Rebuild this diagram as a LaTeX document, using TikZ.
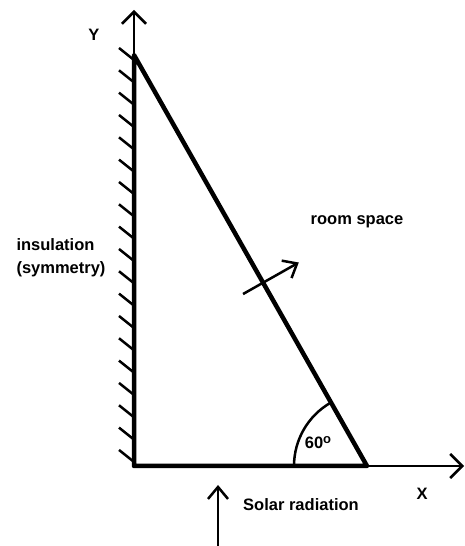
\documentclass[tikz,border=0pt]{standalone}
\usepackage{fontspec}
\setmainfont{Liberation Sans}
\usetikzlibrary{arrows.meta,calc}

\begin{document}
\begin{tikzpicture}[x=1pt,y=1pt,
  lbl/.style={font=\fontsize{16.5}{23}\selectfont\bfseries,text=black,inner sep=0pt},
  wall/.style={line width=4.5pt,line join=round},
  axis/.style={line width=2.5pt,-{Straight Barb[length=12pt,width=24pt]}},
  flux/.style={line width=2.5pt,-{Straight Barb[length=12pt,width=20pt]}},
  hatch/.style={line width=2.5pt}]
  \useasboundingbox (0,0) rectangle (465,546);
  \coordinate (o) at (134,80);
  \coordinate (a) at (134,491);
  \coordinate (b) at (367,80);
  \coordinate (ytip) at (134,536);
  \coordinate (xtip) at (464,80);
  \coordinate (c) at ($(a)!0.554!(b)$);
  \coordinate (c1) at ($(c)+(209.5:23)$);
  \coordinate (c2) at ($(c)+(29.5:41)$);
  \coordinate (sun) at (218,-2);
  \coordinate (suntip) at (218,61);
  % insulated wall
  \foreach \i in {0,...,18}
    \draw[hatch] (134,{486-\i*22.33}) -- ++(-15,12);
  \draw[axis] (a) -- (ytip);
  \draw[axis] (b) -- (xtip);
  \draw[wall] (a) -- (o) -- (b) -- cycle;
  \draw[line width=2.5pt] ($(b)+(180:73)$) arc[start angle=180,end angle=120,radius=73];
  \draw[flux] (c1) -- (c2);
  \draw[flux] (sun) -- (suntip);
  \node[lbl] (ylbl) at (94,511) {Y};
  \node[lbl] (xlbl) at (422,52) {X};
  \node[lbl] (room) at (357,324) {room space};
  \node[lbl,align=left] (ins) at (61,288) {insulation\\(symmetry)};
  \node[lbl] (sol) at (301,41) {Solar radiation};
  \node[lbl] (ang) at (318,103) {60\raisebox{5pt}{\fontsize{13}{13}\selectfont o}};
\end{tikzpicture}
\end{document}
